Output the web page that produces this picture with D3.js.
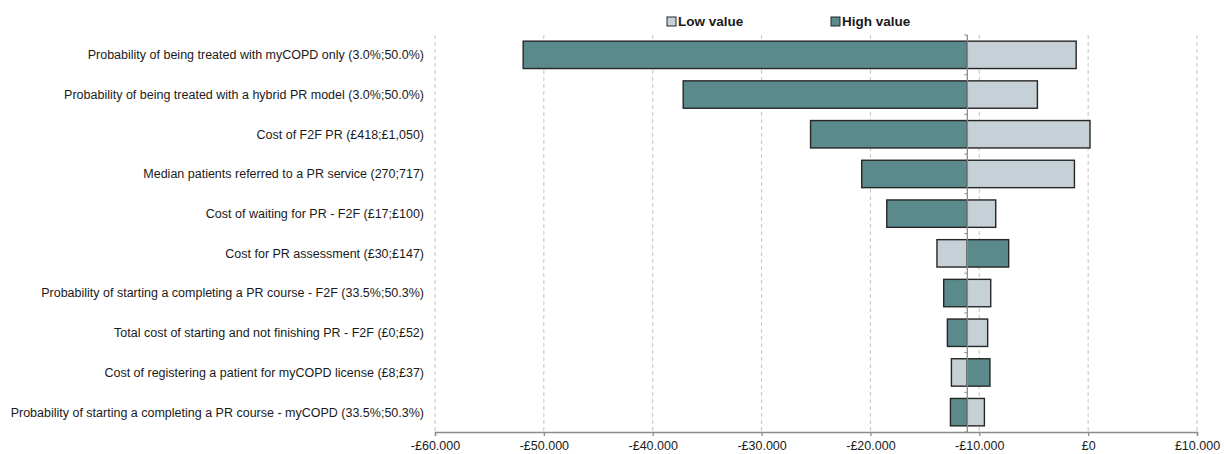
<!DOCTYPE html>
<html>
<head>
<meta charset="utf-8">
<script src="https://cdn.jsdelivr.net/npm/d3@7"></script>
<style>
  body { margin: 0; background: #fff; }
  svg text { font-family: "Liberation Sans", Arial, sans-serif; }
  .grid line { stroke: #c4c4c4; stroke-dasharray: 4,3; }
</style>
</head>
<body>
<div id="chart"></div>
<script>
var categories = [
  "Probability of being treated with myCOPD only (3.0%;50.0%)",
  "Probability of being treated with a hybrid PR model (3.0%;50.0%)",
  "Cost of F2F PR (£418;£1,050)",
  "Median patients referred to a PR service (270;717)",
  "Cost of waiting for PR - F2F (£17;£100)",
  "Cost for PR assessment (£30;£147)",
  "Probability of starting a completing a PR course - F2F (33.5%;50.3%)",
  "Total cost of starting and not finishing PR - F2F (£0;£52)",
  "Cost of registering a patient for myCOPD license (£8;£37)",
  "Probability of starting a completing a PR course - myCOPD (33.5%;50.3%)"
];
var lowValues = [-1100, -4660, 170, -1260, -8490, -13890, -8950, -9230, -12560, -9530];
var highValues = [-51900, -37200, -25500, -20800, -18500, -7300, -13270, -12930, -9020, -12650];
var baseValue = -11100;
var xTicks = [-60000, -50000, -40000, -30000, -20000, -10000, 0, 10000];
var seriesNames = ["Low value", "High value"];
var seriesColors = ["#c5d1d7", "#5b8a8c"];

var width = 1224, height = 454;
var m = {top: 35, right: 27, bottom: 22, left: 435};

var svg = d3.select("#chart").append("svg")
  .attr("width", width)
  .attr("height", height);

var x = d3.scaleLinear()
  .domain([-60000, 10000])
  .range([m.left, width - m.right]);

var y = d3.scaleBand()
  .domain(categories)
  .range([m.top, height - m.bottom])
  .paddingInner(0.31)
  .paddingOuter(0.155);

var loc = d3.formatLocale({decimal: ",", thousands: ".", grouping: [3], currency: ["£", ""], minus: "-"});
var fmt = loc.format("$,.0f");

// dashed gridlines
svg.append("g")
  .attr("class", "grid")
  .selectAll("line")
  .data(xTicks)
  .enter().append("line")
  .attr("x1", function(d) { return x(d); })
  .attr("x2", function(d) { return x(d); })
  .attr("y1", m.top)
  .attr("y2", height - m.bottom);

// bars, one per series per row
var rows = categories.map(function(c, i) {
  return [
    {cat: c, v: lowValues[i], s: 0},
    {cat: c, v: highValues[i], s: 1}
  ];
});

svg.append("g")
  .selectAll("rect")
  .data([].concat.apply([], rows))
  .enter().append("rect")
  .attr("x", function(d) { return Math.min(x(d.v), x(baseValue)); })
  .attr("width", function(d) { return Math.abs(x(d.v) - x(baseValue)); })
  .attr("y", function(d) { return y(d.cat); })
  .attr("height", y.bandwidth())
  .attr("fill", function(d) { return seriesColors[d.s]; })
  .attr("stroke", "#262626")
  .attr("stroke-width", 1.4);

// bottom axis
var xAxis = svg.append("g")
  .attr("transform", "translate(0," + (height - m.bottom) + ")")
  .call(d3.axisBottom(x).tickValues(xTicks).tickFormat(fmt).tickSizeOuter(0).tickSize(4));
xAxis.select(".domain").attr("stroke", "#8c8c8c").attr("stroke-width", 1.3);
xAxis.selectAll(".tick line").attr("stroke", "#8c8c8c").attr("stroke-width", 1.3);
xAxis.selectAll("text")
  .attr("y", 9)
  .attr("font-size", 12.5)
  .attr("fill", "#1a1a1a");

// base line with small ticks at band edges
var edges = categories.map(function(c) { return y(c) - y.step() * y.paddingInner() / 2; });
edges.push(height - m.bottom);
svg.append("line")
  .attr("x1", x(baseValue)).attr("x2", x(baseValue))
  .attr("y1", m.top).attr("y2", height - m.bottom)
  .attr("stroke", "#8c8c8c").attr("stroke-width", 1.3);
svg.append("g")
  .selectAll("line")
  .data(edges)
  .enter().append("line")
  .attr("x1", x(baseValue) - 3).attr("x2", x(baseValue))
  .attr("y1", function(d) { return d; })
  .attr("y2", function(d) { return d; })
  .attr("stroke", "#8c8c8c").attr("stroke-width", 1);

// category labels
svg.append("g")
  .selectAll("text")
  .data(categories)
  .enter().append("text")
  .attr("x", m.left - 11)
  .attr("y", function(d) { return y(d) + y.bandwidth() / 2; })
  .attr("dy", "0.35em")
  .attr("text-anchor", "end")
  .attr("font-size", 12.5)
  .attr("fill", "#1a1a1a")
  .text(function(d) { return d; });

// legend
var legendX = [667, 831];
var lg = svg.append("g")
  .selectAll("g")
  .data(seriesNames)
  .enter().append("g")
  .attr("transform", function(d, i) { return "translate(" + legendX[i] + ",17)"; });
lg.append("rect")
  .attr("width", 9).attr("height", 9)
  .attr("fill", function(d, i) { return seriesColors[i]; })
  .attr("stroke", "#262626").attr("stroke-width", 1);
lg.append("text")
  .attr("x", 11).attr("y", 4.5).attr("dy", "0.35em")
  .attr("font-size", 13.5).attr("font-weight", "bold")
  .attr("fill", "#1a1a1a")
  .text(function(d) { return d; });
</script>
</body>
</html>
